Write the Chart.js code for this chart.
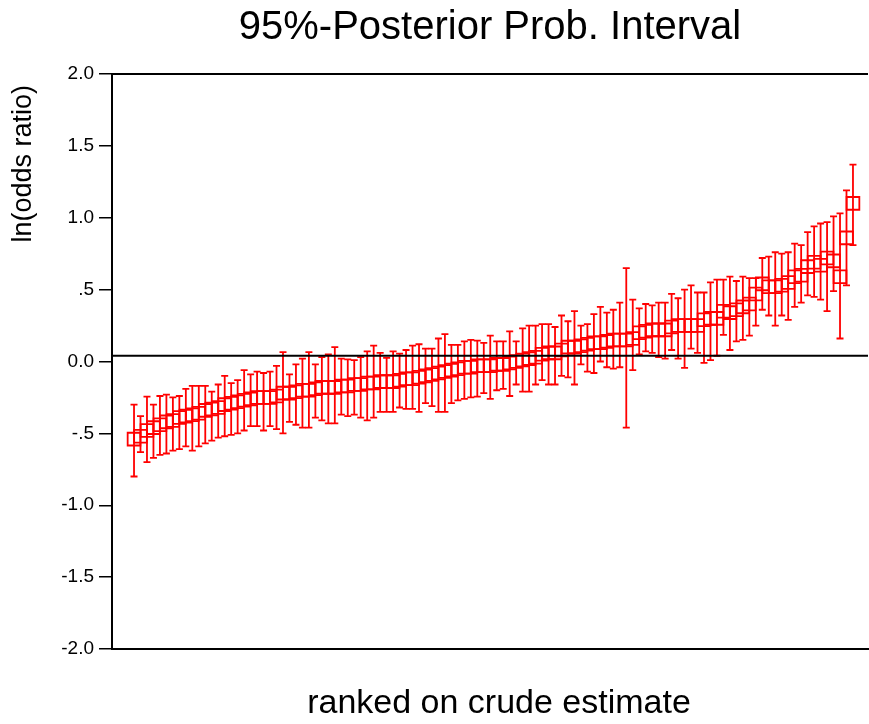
<!DOCTYPE html>
<html><head><meta charset="utf-8">
<script src="https://cdn.jsdelivr.net/npm/chart.js@4/dist/chart.umd.min.js"></script>
<style>html,body{margin:0;padding:0;background:#fff;overflow:hidden}canvas{display:block}</style>
</head><body><canvas id="c" width="869" height="724"></canvas>
<script>
const TITLE = '95%-Posterior Prob. Interval';
const X_TITLE = 'ranked on crude estimate';
const Y_TITLE = 'ln(odds ratio)';
const yTickValues = [-2, -1.5, -1, -0.5, 0, 0.5, 1, 1.5, 2];
const yTickLabels = ['-2.0', '-1.5', '-1.0', '-.5', '0.0', '.5', '1.0', '1.5', '2.0'];
const REF_VALUE = 0.04;

const estimate = [
  -0.54,-0.52,-0.48,-0.46,-0.44,-0.42,-0.41,-0.39,-0.38,-0.37,
  -0.36,-0.34,-0.33,-0.32,-0.30,-0.29,-0.28,-0.27,-0.26,-0.25,
  -0.25,-0.25,-0.24,-0.22,-0.22,-0.21,-0.20,-0.20,-0.19,-0.18,
  -0.18,-0.18,-0.17,-0.17,-0.16,-0.16,-0.15,-0.15,-0.14,-0.14,
  -0.14,-0.13,-0.12,-0.12,-0.11,-0.10,-0.09,-0.08,-0.07,-0.06,
  -0.05,-0.04,-0.04,-0.03,-0.03,-0.03,-0.02,-0.02,-0.01,0.00,
  0.01,0.02,0.03,0.05,0.06,0.06,0.08,0.10,0.10,0.11,
  0.12,0.13,0.13,0.14,0.15,0.15,0.15,0.16,0.20,0.21,
  0.22,0.22,0.22,0.24,0.25,0.25,0.25,0.25,0.29,0.30,
  0.30,0.35,0.34,0.36,0.38,0.40,0.47,0.54,0.52,0.52,
  0.53,0.55,0.59,0.60,0.66,0.69,0.67,0.72,0.70,0.59,
  0.86,1.10
];
const lower = [
  -0.80,-0.63,-0.70,-0.67,-0.65,-0.64,-0.62,-0.61,-0.59,-0.62,
  -0.59,-0.57,-0.55,-0.53,-0.52,-0.51,-0.50,-0.48,-0.45,-0.45,
  -0.48,-0.45,-0.47,-0.50,-0.42,-0.44,-0.46,-0.46,-0.39,-0.41,
  -0.43,-0.43,-0.37,-0.38,-0.37,-0.39,-0.41,-0.39,-0.35,-0.35,
  -0.35,-0.32,-0.33,-0.33,-0.35,-0.29,-0.31,-0.35,-0.35,-0.29,
  -0.27,-0.26,-0.25,-0.245,-0.22,-0.26,-0.20,-0.19,-0.24,-0.16,
  -0.21,-0.21,-0.16,-0.13,-0.16,-0.16,-0.10,-0.11,-0.16,-0.02,
  -0.07,-0.08,0.00,-0.04,-0.05,-0.04,-0.46,-0.06,0.05,0.07,
  0.06,0.03,0.02,0.08,0.02,-0.045,0.09,0.06,-0.01,0.01,
  0.04,0.185,0.08,0.14,0.15,0.18,0.25,0.36,0.32,0.25,
  0.32,0.29,0.38,0.41,0.46,0.45,0.43,0.35,0.49,0.16,
  0.53,0.81
];
const upper = [
  -0.30,-0.38,-0.245,-0.30,-0.24,-0.23,-0.25,-0.24,-0.19,-0.17,
  -0.17,-0.17,-0.21,-0.16,-0.10,-0.15,-0.13,-0.06,-0.09,-0.07,
  -0.08,-0.07,-0.03,0.065,-0.09,-0.02,0.02,0.065,-0.02,0.03,
  0.05,0.10,0.02,0.015,0.01,0.03,0.07,0.11,0.06,0.025,
  0.07,0.055,0.08,0.11,0.12,0.09,0.09,0.16,0.19,0.115,
  0.115,0.14,0.15,0.145,0.13,0.18,0.14,0.14,0.21,0.14,
  0.23,0.25,0.25,0.26,0.26,0.24,0.32,0.28,0.35,0.25,
  0.26,0.33,0.38,0.34,0.36,0.41,0.65,0.43,0.37,0.40,
  0.39,0.41,0.41,0.47,0.44,0.50,0.53,0.48,0.48,0.55,
  0.57,0.57,0.59,0.56,0.59,0.58,0.58,0.72,0.73,0.76,
  0.75,0.76,0.82,0.81,0.90,0.94,0.96,0.97,1.01,1.03,
  1.19,1.37
];
const ranks = estimate.map((_, i) => i + 1);

const X_MIN = -2.4, X_MAX = 114.32;
const RED = '#ff0000';
const FONT = "'Liberation Sans', Arial, sans-serif";

const errorBars = {
  id: 'errorBars',
  beforeDatasetsDraw(chart) {
    const {ctx, scales: {x, y}} = chart;
    ctx.save();
    ctx.strokeStyle = RED;
    ctx.lineWidth = 1.8;
    ranks.forEach((r, i) => {
      const px = x.getPixelForValue(r);
      const pl = y.getPixelForValue(lower[i]);
      const ph = y.getPixelForValue(upper[i]);
      ctx.beginPath();
      ctx.moveTo(px, pl); ctx.lineTo(px, ph);
      ctx.moveTo(px - 3.5, pl); ctx.lineTo(px + 3.5, pl);
      ctx.moveTo(px - 3.5, ph); ctx.lineTo(px + 3.5, ph);
      ctx.stroke();
    });
    ctx.restore();
  }
};
const frameAndTitles = {
  id: 'frameAndTitles',
  afterDraw(chart) {
    const {ctx, chartArea} = chart;
    ctx.save();
    ctx.strokeStyle = '#000';
    ctx.lineWidth = 2;
    ctx.beginPath();
    ctx.moveTo(chartArea.left - 1, chartArea.top);
    ctx.lineTo(chartArea.right, chartArea.top);
    ctx.stroke();
    ctx.fillStyle = '#000';
    ctx.textBaseline = 'middle';
    ctx.textAlign = 'center';
    ctx.font = "34px " + FONT;
    ctx.fillText(X_TITLE, (chartArea.left + chartArea.right) / 2 + 9, chartArea.bottom + 55);
    ctx.translate(24, chartArea.top + 11);
    ctx.rotate(-Math.PI / 2);
    ctx.font = "27px " + FONT;
    ctx.textAlign = 'right';
    ctx.fillText(Y_TITLE, 0, 0);
    ctx.restore();
  }
};

new Chart(document.getElementById('c'), {
  type: 'scatter',
  data: {
    datasets: [
      {
        type: 'line',
        data: [{x: X_MIN, y: REF_VALUE}, {x: X_MAX, y: REF_VALUE}],
        borderColor: '#000',
        borderWidth: 1.8,
        pointRadius: 0,
        order: 0
      },
      {
        data: ranks.map((r, i) => ({x: r, y: estimate[i]})),
        pointStyle: 'rect',
        pointRadius: 9,
        backgroundColor: 'rgba(0,0,0,0)',
        borderColor: RED,
        borderWidth: 1.8,
        order: 1
      }
    ]
  },
  plugins: [errorBars, frameAndTitles],
  options: {
    responsive: false,
    animation: false,
    layout: {autoPadding: false, padding: {left: 0, right: 1, top: 0, bottom: 0}},
    plugins: {
      legend: {display: false},
      tooltip: {enabled: false},
      title: {
        display: true,
        fullSize: false,
        text: TITLE,
        color: '#000',
        font: {family: FONT, size: 40, weight: 'normal', lineHeight: 1.2},
        padding: {top: 4, bottom: 22}
      }
    },
    scales: {
      x: {
        type: 'linear',
        min: X_MIN,
        max: X_MAX,
        ticks: {display: false},
        grid: {display: false},
        border: {display: true, color: '#000', width: 2},
        title: {display: false},
        afterFit(s) { s.height = 75; }
      },
      y: {
        type: 'linear',
        min: -2,
        max: 2,
        afterBuildTicks(s) { s.ticks = yTickValues.map(v => ({value: v})); },
        ticks: {
          color: '#000',
          padding: 5,
          font: {family: FONT, size: 19},
          callback: (v) => { const k = yTickValues.indexOf(v); return k >= 0 ? yTickLabels[k] : ''; }
        },
        grid: {display: true, drawOnChartArea: false, drawTicks: true, tickLength: 13, color: '#000', lineWidth: 1.5},
        border: {display: true, color: '#000', width: 2},
        title: {display: false},
        afterFit(s) { s.width = 112; }
      }
    }
  }
});
</script>
</body></html>
